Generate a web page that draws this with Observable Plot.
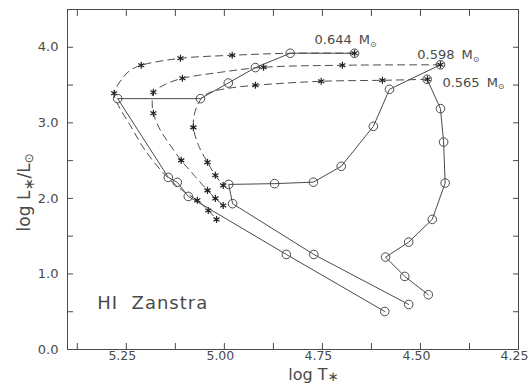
<!DOCTYPE html>
<html><head><meta charset="utf-8">
<script src="https://cdn.jsdelivr.net/npm/d3@7"></script>
<script src="https://cdn.jsdelivr.net/npm/@observablehq/plot@0.6"></script>
<style>html,body{margin:0;padding:0;background:#fff;}</style>
</head><body><div id="chart"></div>
<script>
// ---- axis ticks ----
const xMajorTicks = [5.25, 5.00, 4.75, 4.50, 4.25];
const xMinorTicks = [5.375, 5.125, 4.875, 4.625, 4.375];
const yMajorTicks = [0, 1, 2, 3, 4];
const yMinorTicks = [0.5, 1.5, 2.5, 3.5];

// ---- theoretical post-AGB tracks (dashed) ----
const track644LogT = [4.668,4.832,4.980,5.112,5.212,5.240,5.260,5.281,5.273,5.240,5.202,5.150,5.107,5.069,5.041,5.020];
const track644LogL = [3.921,3.921,3.894,3.854,3.762,3.695,3.589,3.391,3.258,2.967,2.636,2.305,2.106,1.974,1.841,1.722];
const star644LogT = [4.668,4.980,5.112,5.212,5.281,5.069,5.041,5.020];
const star644LogL = [3.921,3.894,3.854,3.762,3.391,1.974,1.841,1.722];

const track598LogT = [4.449,4.699,4.900,5.010,5.107,5.150,5.181,5.184,5.181,5.163,5.143,5.110,5.077,5.043,5.023,5.003];
const track598LogL = [3.768,3.762,3.735,3.669,3.589,3.510,3.404,3.272,3.126,2.901,2.742,2.503,2.305,2.106,2.000,1.907];
const star598LogT = [4.449,4.699,4.900,5.107,5.181,5.181,5.110,5.043,5.023,5.003];
const star598LogL = [3.768,3.762,3.735,3.589,3.404,3.126,2.503,2.106,2.000,1.907];

const track565LogT = [4.482,4.597,4.753,4.921,4.990,5.036,5.056,5.069,5.077,5.079,5.066,5.043,5.023,5.003];
const track565LogL = [3.576,3.563,3.550,3.497,3.457,3.404,3.338,3.232,3.099,2.940,2.702,2.477,2.305,2.172];
const star565LogT = [4.482,4.597,4.753,4.921,5.079,5.043,5.023,5.003];
const star565LogL = [3.576,3.563,3.550,3.497,2.940,2.477,2.305,2.172];

// ---- HI Zanstra positions (solid, circles) ----
const obs644LogT = [4.668,4.832,4.921,4.990,5.061,5.272,5.143,5.120,5.092,4.842,4.591];
const obs644LogL = [3.921,3.921,3.731,3.527,3.320,3.320,2.278,2.212,2.026,1.258,0.503];
const obs598LogT = [4.449,4.579,4.620,4.702,4.773,4.872,4.989,4.979,4.772,4.530];
const obs598LogL = [3.768,3.444,2.954,2.424,2.215,2.195,2.185,1.930,1.258,0.596];
const obs565LogT = [4.483,4.449,4.441,4.437,4.470,4.530,4.589,4.540,4.480];
const obs565LogL = [3.576,3.188,2.746,2.203,1.722,1.421,1.223,0.967,0.725];

const massLabels = ["0.644", "0.598", "0.565"];
const panelLabel = "HI Zanstra";

const rows = (t, l) => t.map((v, i) => ({logT: v, logL: l[i]}));
const tracks = [rows(track644LogT, track644LogL), rows(track598LogT, track598LogL), rows(track565LogT, track565LogL)];
const stars = [rows(star644LogT, star644LogL), rows(star598LogT, star598LogL), rows(star565LogT, star565LogL)].flat();
const obs = [rows(obs644LogT, obs644LogL), rows(obs598LogT, obs598LogL), rows(obs565LogT, obs565LogL)];

const ink = "#4a4a4a";
const labelPos = [{x: 4.770, y: 4.093}, {x: 4.508, y: 3.894}, {x: 4.444, y: 3.536}];

const chart = Plot.plot({
  width: 529, height: 385,
  marginLeft: 67, marginRight: 11, marginTop: 9, marginBottom: 36,
  style: {fontFamily: "DejaVu Sans", fontSize: "13px", color: "#4a4a4a", background: "white"},
  x: {domain: [5.40, 4.25]},
  y: {domain: [0, 4.5]},
  marks: [
    Plot.frame({stroke: ink, strokeWidth: 1}),
    Plot.axisX(xMajorTicks.concat(xMinorTicks), {anchor: "bottom", tickSize: -6, tickFormat: () => "", label: null, stroke: ink}),
    Plot.axisX(xMajorTicks.concat(xMinorTicks), {anchor: "top", tickSize: -6, tickFormat: () => "", label: null, stroke: ink}),
    Plot.axisY(yMajorTicks.concat(yMinorTicks), {anchor: "left", tickSize: -6, tickFormat: () => "", label: null, stroke: ink}),
    Plot.axisY(yMajorTicks.concat(yMinorTicks), {anchor: "right", tickSize: -6, tickFormat: () => "", label: null, stroke: ink}),
    Plot.axisX(xMajorTicks, {anchor: "bottom", tickSize: 0, tickPadding: 2, dx: -4, fontSize: 12.5, tickFormat: d3.format(".2f"), label: null, fill: ink}),
    Plot.axisY(yMajorTicks, {anchor: "left", tickSize: 0, tickPadding: 9, tickFormat: d3.format(".1f"), label: null, fill: ink}),
    ...tracks.map(t => Plot.line(t, {x: "logT", y: "logL", stroke: ink, strokeWidth: 1, strokeDasharray: "7,5", curve: "catmull-rom"})),
    ...obs.map(o => Plot.line(o, {x: "logT", y: "logL", stroke: ink, strokeWidth: 1})),
    Plot.dot(stars, {x: "logT", y: "logL", symbol: "asterisk", r: 3.3, stroke: "#222", strokeWidth: 1.2}),
    Plot.dot(obs.flat(), {x: "logT", y: "logL", r: 4.3, stroke: ink, strokeWidth: 1, fill: "none"}),
    Plot.text(massLabels, {x: (d, i) => labelPos[i].x, y: (d, i) => labelPos[i].y, text: d => d, textAnchor: "start", lineAnchor: "middle", fill: ink, fontSize: 13}),
    Plot.text([panelLabel], {x: 5.324, y: 0.609, text: d => d, textAnchor: "start", lineAnchor: "middle", fill: ink, fontSize: 18}),
    Plot.text(["log T"], {x: 4.837, frameAnchor: "bottom", dy: 25, text: d => d, textAnchor: "start", lineAnchor: "middle", fill: ink, fontSize: 16}),
    Plot.text(["log L/L"], {y: 2.08, frameAnchor: "left", dx: -43, rotate: -90, text: d => d, textAnchor: "middle", lineAnchor: "middle", fill: ink, fontSize: 17})
  ]
});
document.getElementById("chart").appendChild(chart);

const svg = d3.select(chart);
function rich(textNode, parts) {
  const t = d3.select(textNode);
  t.text(null);
  parts.forEach(p => {
    const ts = t.append("tspan").text(p.t);
    if (p.dx) ts.attr("dx", p.dx);
    if (p.sub) ts.attr("dy", p.sub).attr("font-size", p.fs || "0.7em");
    if (p.back) ts.attr("dy", p.back);
  });
}
svg.selectAll("text").each(function () {
  const s = this.textContent;
  if (massLabels.includes(s)) {
    rich(this, [{t: s}, {t: "M", dx: 7}, {t: "\u2299", sub: "0.3em", fs: "0.62em"}]);
  } else if (s === "log T") {
    rich(this, [{t: "log T"}, {t: "\u2217", sub: "0.12em", fs: "0.85em"}]);
  } else if (s === "log L/L") {
    rich(this, [{t: "log L"}, {t: "\u2217", sub: "0.3em", fs: "0.85em"}, {t: "/L", back: "-0.26em"}, {t: "\u2299", sub: "0.3em", fs: "0.7em"}]);
  } else if (s === panelLabel) {
    d3.select(this).style("letter-spacing", "1px").style("white-space", "pre").text("HI  Zanstra");
  }
});
</script>
</body></html>
